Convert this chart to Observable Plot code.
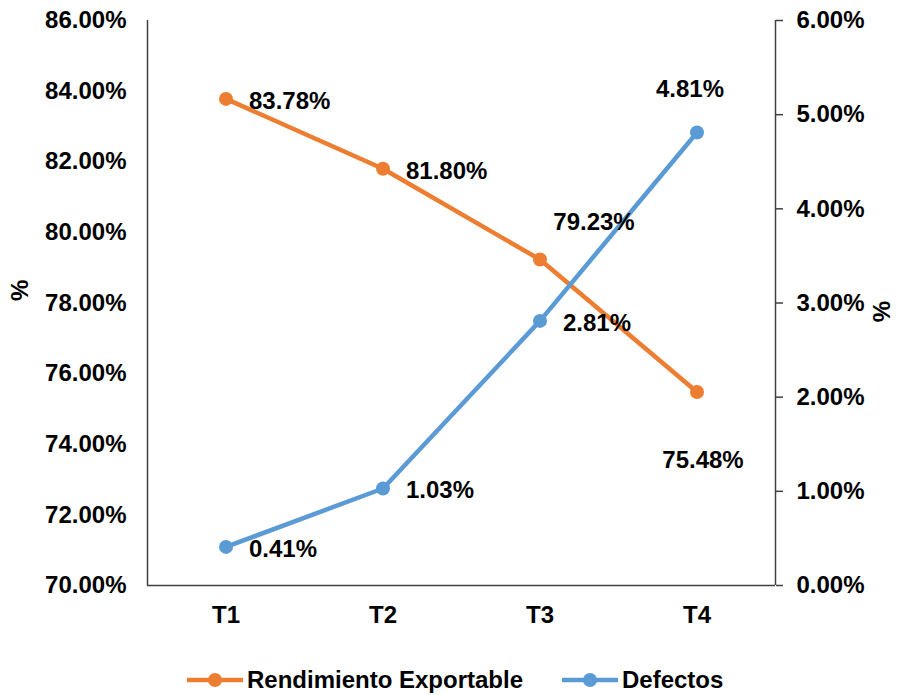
<!DOCTYPE html>
<html>
<head>
<meta charset="utf-8">
<script src="https://cdn.jsdelivr.net/npm/d3@7"></script>
<script src="https://cdn.jsdelivr.net/npm/@observablehq/plot@0.6"></script>
<style>
  html, body { margin: 0; padding: 0; background: #fff; }
  #chart { position: relative; width: 900px; height: 695px; font-family: "Liberation Sans", Arial, sans-serif; font-weight: bold; }
  .legend { position: absolute; top: 664px; left: 0; width: 900px; height: 32px; font-size: 24px; color: #000; }
  .legend .item { position: absolute; top: 0; display: flex; align-items: center; height: 32px; }
  .legend svg { margin-right: 2px; }
</style>
</head>
<body>
<div id="chart"></div>
<script>
// Treatments on the x axis
const categories = ["T1", "T2", "T3", "T4"];
// Rendimiento Exportable (left axis), percent
const rendimiento = [83.78, 81.80, 79.23, 75.48];
// Defectos (right axis), percent
const defectos = [0.41, 1.03, 2.81, 4.81];
// Left axis ticks and right axis ticks, percent
const leftTicks = [70, 72, 74, 76, 78, 80, 82, 84, 86];
const rightTicks = [0, 1, 2, 3, 4, 5, 6];

const ORANGE = "#ED7D31";
const BLUE = "#5B9BD5";

// Map the right-axis scale (0–6 %) onto the left-axis scale (70–86 %)
const L0 = 70, L1 = 86, R0 = 0, R1 = 6;
const toLeft = v => L0 + (v - R0) * (L1 - L0) / (R1 - R0);

const rows = categories.map((c, i) => ({
  i: i + 1,
  cat: c,
  rend: rendimiento[i],
  def: defectos[i],
  defY: toLeft(defectos[i])
}));

const fmt = v => v.toFixed(2) + "%";
const labelFont = { fontSize: 24, fontWeight: "bold", fill: "#000" };

const plot = Plot.plot({
  width: 900,
  height: 640,
  marginLeft: 147,
  marginRight: 125,
  marginTop: 20,
  marginBottom: 55,
  style: { fontFamily: "'Liberation Sans', Arial, sans-serif", fontSize: "24px", fontWeight: "bold", color: "#000", background: "#fff" },
  x: { type: "linear", domain: [0.5, categories.length + 0.5] },
  y: { domain: [L0, L1] },
  marks: [
    // axis lines: left, right, bottom
    Plot.ruleX([0.5], { stroke: "#404040", strokeWidth: 1.5 }),
    Plot.ruleX([categories.length + 0.5], { stroke: "#404040", strokeWidth: 1.5 }),
    Plot.ruleY([L0], { stroke: "#404040", strokeWidth: 1.5 }),
    Plot.axisX({ ticks: categories.map((c, i) => i + 1), tickFormat: i => categories[i - 1], tickSize: 0, tickPadding: 20, label: null }),
    Plot.axisY({ anchor: "left", ticks: leftTicks, tickFormat: fmt, tickSize: 0, tickPadding: 21, label: null }),
    Plot.axisY({ anchor: "right", ticks: rightTicks.map(toLeft), tickFormat: v => fmt((v - L0) * (R1 - R0) / (L1 - L0) + R0), tickSize: 7, tickPadding: 14, stroke: "#404040", strokeWidth: 1.5, label: null }),
    // axis titles
    Plot.text(["%"], { frameAnchor: "left", dx: -127, dy: -2, rotate: -90, ...labelFont }),
    Plot.text(["%"], { frameAnchor: "right", dx: 107, dy: -2, rotate: -90, ...labelFont }),
    // series
    Plot.line(rows, { x: "i", y: "rend", stroke: ORANGE, strokeWidth: 4.5 }),
    Plot.dot(rows, { x: "i", y: "rend", r: 7, fill: ORANGE }),
    Plot.line(rows, { x: "i", y: "defY", stroke: BLUE, strokeWidth: 4.5 }),
    Plot.dot(rows, { x: "i", y: "defY", r: 7, fill: BLUE }),
    // value labels: Rendimiento Exportable
    Plot.text(rows, { filter: d => d.i <= 2, x: "i", y: "rend", text: d => fmt(d.rend), textAnchor: "start", dx: 23, dy: 2, ...labelFont }),
    Plot.text(rows, { filter: d => d.i === 3, x: "i", y: "rend", text: d => fmt(d.rend), dx: 54, dy: -37, ...labelFont }),
    Plot.text(rows, { filter: d => d.i === 4, x: "i", y: "rend", text: d => fmt(d.rend), dx: 6, dy: 68, ...labelFont }),
    // value labels: Defectos
    Plot.text(rows, { filter: d => d.i <= 3, x: "i", y: "defY", text: d => fmt(d.def), textAnchor: "start", dx: 23, dy: 2, ...labelFont }),
    Plot.text(rows, { filter: d => d.i === 4, x: "i", y: "defY", text: d => fmt(d.def), dx: -7, dy: -43, ...labelFont })
  ]
});

const chart = document.getElementById("chart");
chart.appendChild(plot);

// Legend below the plot
const legendItems = [
  { name: "Rendimiento Exportable", color: ORANGE, left: 185 },
  { name: "Defectos", color: BLUE, left: 560 }
];
const legend = document.createElement("div");
legend.className = "legend";
for (const it of legendItems) {
  const item = document.createElement("div");
  item.className = "item";
  item.style.left = it.left + "px";
  item.innerHTML =
    `<svg width="60" height="20"><line x1="2" y1="10" x2="58" y2="10" stroke="${it.color}" stroke-width="4.5"/>` +
    `<circle cx="30" cy="10" r="7" fill="${it.color}"/></svg><span>${it.name}</span>`;
  legend.appendChild(item);
}
chart.appendChild(legend);
</script>
</body>
</html>
